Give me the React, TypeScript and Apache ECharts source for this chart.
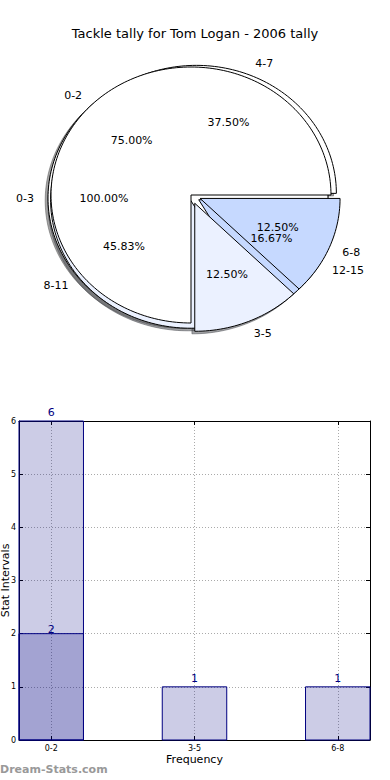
import React, { useEffect, useRef } from 'react';
import * as echarts from 'echarts';

const titleText = 'Tackle tally for Tom Logan - 2006 tally';

// Pie data (three overlaid pies)
const pie1Labels = ['0-2', '3-5', '6-8'];
const pie1Values = [6, 1, 1];
const pie2Labels = ['4-7', '8-11', '12-15'];
const pie2Values = [9, 11, 4];
const pie3Labels = ['0-3'];
const pie3Values = [2];

// Bar data
const barCategories = ['0-2', '3-5', '6-8'];
const barValues = [6, 1, 1];
const overlayValues = [2];

const FONT = 'DejaVu Sans';
const sliceColors = ['#ffffff', '#ebf1ff', '#c6d9ff'];
const shadowColors = ['rgba(77,77,77,0.5)', 'rgba(70,72,77,0.5)', 'rgba(59,65,77,0.5)'];
const BAR_W = 0.45; // bar width in axis units

const RX = 140;
const RY = 128;

type Pie = { labels: string[]; values: number[]; cx: number; cy: number; explode: number[] };

// drawing order: bottom to top
const pies: Pie[] = [
  { labels: pie3Labels, values: pie3Values, cx: 188, cy: 198, explode: [0] },
  { labels: pie2Labels, values: pie2Values, cx: 194.5, cy: 197.5, explode: [0.035, 0.035, 0.035] },
  { labels: pie1Labels, values: pie1Values, cx: 191, cy: 195, explode: [0, 0.07, 0.07] },
];

function wedge(pie: Pie, i: number) {
  const total = pie.values.reduce((a, b) => a + b, 0);
  let before = 0;
  for (let k = 0; k < i; k++) before += pie.values[k];
  const a0 = (before / total) * 2 * Math.PI;
  const a1 = ((before + pie.values[i]) / total) * 2 * Math.PI;
  const mid = (a0 + a1) / 2;
  const e = pie.explode[i] || 0;
  const cx = pie.cx + e * RX * Math.cos(mid);
  const cy = pie.cy - e * RY * Math.sin(mid);
  const full = a1 - a0 >= 2 * Math.PI - 1e-9;
  return { cx, cy, a0, a1, mid, full, frac: pie.values[i] / total };
}

function arcPoints(cx: number, cy: number, a0: number, a1: number, withCenter: boolean) {
  const pts: number[][] = [];
  if (withCenter) pts.push([cx, cy]);
  const n = Math.max(8, Math.ceil((a1 - a0) / (Math.PI / 120)));
  for (let k = 0; k <= n; k++) {
    const t = a0 + ((a1 - a0) * k) / n;
    pts.push([cx + RX * Math.cos(t), cy - RY * Math.sin(t)]);
  }
  return pts;
}

function buildPieSeries(): any[] {
  const shadowSeries: any[] = [];
  const wedgeSeries: any[] = [];
  const labelSeries: any[] = [];
  pies.forEach((pie, pIdx) => {
    const data = pie.values.map((v, i) => [i, v]);
    shadowSeries.push({
      type: 'custom',
      coordinateSystem: 'none',
      z: 1,
      silent: true,
      data,
      renderItem: (params: any) => {
        const i = params.dataIndex;
        const w = wedge(pie, i);
        const dx = -0.02 * RX;
        const dy = 0.02 * RY;
        const pts = arcPoints(w.cx + dx, w.cy + dy, w.a0, w.a1, !w.full);
        const c = shadowColors[i % 3];
        return { type: 'polygon', shape: { points: pts }, style: { fill: c, stroke: c, lineWidth: 1 } };
      },
    });
    wedgeSeries.push({
      type: 'custom',
      coordinateSystem: 'none',
      z: 2 + pIdx,
      silent: true,
      data,
      renderItem: (params: any) => {
        const i = params.dataIndex;
        const w = wedge(pie, i);
        const pts = arcPoints(w.cx, w.cy, w.a0, w.a1, !w.full);
        return {
          type: 'polygon',
          shape: { points: pts },
          style: { fill: sliceColors[i % 3], stroke: '#000', lineWidth: 1 },
        };
      },
    });
    labelSeries.push({
      type: 'custom',
      coordinateSystem: 'none',
      z: 10,
      silent: true,
      data,
      renderItem: (params: any) => {
        const i = params.dataIndex;
        const w = wedge(pie, i);
        const c = Math.cos(w.mid);
        const s = Math.sin(w.mid);
        return {
          type: 'group',
          children: [
            {
              type: 'text',
              x: w.cx + 1.1 * RX * c,
              y: w.cy - 1.1 * RY * s,
              style: {
                text: pie.labels[i],
                fontSize: 11,
                fontFamily: FONT,
                fill: '#000',
                align: c > 0 ? 'left' : 'right',
                verticalAlign: 'middle',
              },
            },
            {
              type: 'text',
              x: w.cx + 0.6 * RX * c,
              y: w.cy - 0.6 * RY * s,
              style: {
                text: (w.frac * 100).toFixed(2) + '%',
                fontSize: 11,
                fontFamily: FONT,
                fill: '#000',
                align: 'center',
                verticalAlign: 'middle',
              },
            },
          ],
        };
      },
    });
  });
  return [...shadowSeries, ...wedgeSeries, ...labelSeries];
}

function barSeries(values: number[], labelOffset: number, z: number) {
  return {
    type: 'custom',
    xAxisIndex: 0,
    yAxisIndex: 0,
    z,
    silent: true,
    data: values.map((v, i) => [i, v]),
    encode: { x: 0, y: 1 },
    renderItem: (params: any, api: any) => {
      const x = api.value(0);
      const v = api.value(1);
      const tl = api.coord([x - BAR_W / 2, v]);
      const br = api.coord([x + BAR_W / 2, 0]);
      const top = api.coord([x, v]);
      return {
        type: 'group',
        children: [
          {
            type: 'rect',
            shape: { x: tl[0], y: tl[1], width: br[0] - tl[0], height: br[1] - tl[1] },
            style: { fill: 'rgba(0,0,128,0.2)', stroke: '#000080', lineWidth: 1 },
          },
          {
            type: 'text',
            x: top[0],
            y: top[1] - labelOffset,
            style: {
              text: String(v),
              fontSize: 11,
              fontFamily: FONT,
              fill: '#000080',
              align: 'center',
              verticalAlign: 'bottom',
            },
          },
        ],
      };
    },
  };
}

const gridLine = { show: true, lineStyle: { color: '#aaaaaa', type: [1, 2], width: 1 } };
const tickPositions = barCategories.map((_, i) => i);

export default function App() {
  const ref = useRef<HTMLDivElement>(null);
  useEffect(() => {
    document.body.style.margin = '0';
    if (!ref.current) return;
    const chart = echarts.init(ref.current, undefined, { renderer: 'svg' });
    const option: any = {
      animation: false,
      backgroundColor: '#ffffff',
      textStyle: { fontFamily: FONT },
      title: {
        text: titleText,
        left: 'center',
        top: 22,
        textStyle: { fontSize: 13, fontWeight: 'normal', fontFamily: FONT, color: '#000' },
      },
      grid: { left: 19, right: 20, top: 421, bottom: 40, containLabel: false, outerBoundsMode: 'none' },
      xAxis: [
        {
          type: 'value',
          position: 'bottom',
          min: -BAR_W / 2,
          max: barCategories.length - 1 + BAR_W / 2,
          name: 'Frequency',
          nameLocation: 'middle',
          nameGap: 14,
          nameTextStyle: { fontSize: 11, fontFamily: FONT, color: '#000' },
          axisLine: { show: true, onZero: false, lineStyle: { color: '#000', width: 1 } },
          axisTick: { show: true, inside: true, length: 4, customValues: tickPositions, lineStyle: { color: '#000' } },
          axisLabel: {
            customValues: tickPositions,
            fontSize: 8,
            margin: 4,
            color: '#000',
            fontFamily: FONT,
            formatter: (v: number) => barCategories[Math.round(v)] ?? '',
          },
          splitLine: gridLine,
        },
        {
          type: 'value',
          position: 'top',
          min: -BAR_W / 2,
          max: barCategories.length - 1 + BAR_W / 2,
          axisLine: { show: true, onZero: false, lineStyle: { color: '#000', width: 1 } },
          axisTick: { show: true, inside: true, length: 4, customValues: tickPositions, lineStyle: { color: '#000' } },
          axisLabel: { show: false, customValues: tickPositions },
          splitLine: { show: false },
        },
      ],
      yAxis: [
        {
          type: 'value',
          position: 'left',
          min: 0,
          max: 6,
          interval: 1,
          name: 'Stat Intervals',
          nameLocation: 'middle',
          nameGap: 8,
          nameMoveOverlap: false,
          nameTextStyle: { fontSize: 11, fontFamily: FONT, color: '#000' },
          axisLine: { show: true, onZero: false, lineStyle: { color: '#000', width: 1 } },
          axisTick: { show: true, inside: true, length: 4, lineStyle: { color: '#000' } },
          axisLabel: { fontSize: 8, margin: 3, color: '#000', fontFamily: FONT },
          splitLine: gridLine,
        },
        {
          type: 'value',
          position: 'right',
          min: 0,
          max: 6,
          interval: 1,
          axisLine: { show: true, onZero: false, lineStyle: { color: '#000', width: 1 } },
          axisTick: { show: true, inside: true, length: 4, lineStyle: { color: '#000' } },
          axisLabel: { show: false },
          splitLine: { show: false },
        },
      ],
      graphic: [
        {
          type: 'text',
          left: 0,
          top: 764,
          style: { text: 'Dream-Stats.com', fontSize: 11, fontWeight: 'bold', fontFamily: FONT, fill: '#999999' },
        },
      ],
      series: [...buildPieSeries(), barSeries(barValues, 3, 2), barSeries(overlayValues, -1, 3)],
    };
    chart.setOption(option);
    return () => chart.dispose();
  }, []);
  return <div ref={ref} style={{ width: 390, height: 780 }} />;
}
